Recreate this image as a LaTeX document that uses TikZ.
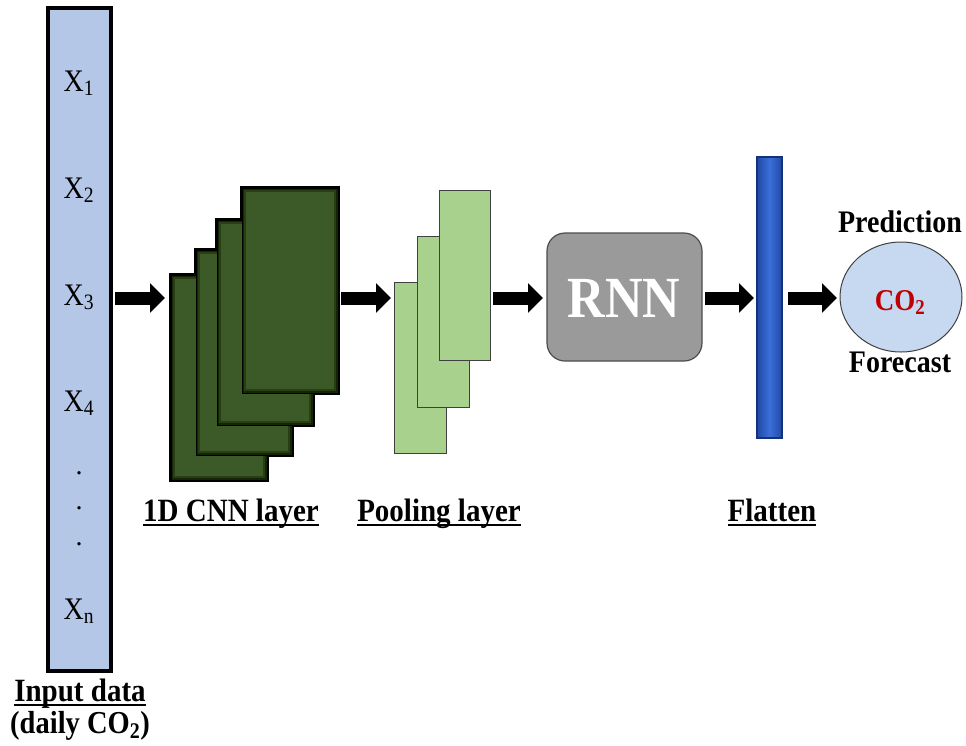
\documentclass[tikz,border=0pt]{standalone}
\usepackage{fontspec}
\usepackage{graphicx}
\setmainfont{Liberation Serif}
\usetikzlibrary{arrows.meta,shapes.geometric}

\definecolor{inputfill}{HTML}{B4C7E7}
\definecolor{cnnfill}{HTML}{3B5A27}
\definecolor{cnnglow}{HTML}{273F13}
\definecolor{cnndeep}{HTML}{142407}
\definecolor{poolfill}{HTML}{A9D18E}
\definecolor{rnnfill}{HTML}{9A9A9A}
\definecolor{flatmid}{HTML}{3B6FD8}
\definecolor{flatedge}{HTML}{2048A8}
\definecolor{outfill}{HTML}{C6D9F0}
\definecolor{co2red}{HTML}{C00000}

% slightly tall lettering
\newcommand{\tall}[1]{\scalebox{1}[1.12]{#1}}
% underlined caption with a heavier rule
\newcommand{\ulabel}[1]{\setbox0\hbox{\tall{#1}}\rlap{\rule[-5pt]{\wd0}{2pt}}\box0}

\tikzset{
  block/.style={anchor=north west, inner sep=0pt, outer sep=0pt},
  inbar/.style={block, fill=inputfill, draw=black, line width=3.5pt},
  sheet/.style={block},
  poolsheet/.style={block, fill=poolfill, draw=black!75, line width=0.8pt},
  rnnbox/.style={block, fill=rnnfill, draw=black!70, line width=1.2pt, rounded corners=18pt},
  flatbar/.style={block, left color=flatedge, right color=flatedge, middle color=flatmid, draw=flatedge!70!black, line width=1.2pt},
  outcircle/.style={ellipse, fill=outfill, draw=black!75, line width=1pt, inner sep=0pt, outer sep=0pt,
    minimum width=122pt, minimum height=110pt},
  xlab/.style={anchor=base, inner sep=0pt, font=\fontsize{28}{30}\selectfont},
  caption/.style={anchor=base, inner sep=0pt, font=\fontsize{29}{31}\selectfont\bfseries},
  bigarrow/.style={line width=13pt, -{Triangle[length=15pt, width=29pt]}},
}

\begin{document}
\begin{tikzpicture}[x=1pt, y=-1pt]
\useasboundingbox (0,0) rectangle (966,745);

% input column
\node[inbar, minimum width=63pt, minimum height=663pt] (inp) at (48,8) {};
\node[xlab] (x1) at (79,91) {\tall{X\textsubscript{1}}};
\node[xlab] (x2) at (79,198) {\tall{X\textsubscript{2}}};
\node[xlab] (x3) at (79,305) {\tall{X\textsubscript{3}}};
\node[xlab] (x4) at (79,411) {\tall{X\textsubscript{4}}};
\node[xlab] (d1) at (79,474) {.};
\node[xlab] (d2) at (79,509) {.};
\node[xlab] (d3) at (79,545) {.};
\node[xlab] (xn) at (79,619) {\tall{X\textsubscript{n}}};
\node[caption] (inlab) at (80,701) {\ulabel{Input data}};
\node[caption, font=\fontsize{28.5}{30}\selectfont\bfseries] (inlab2) at (80,733) {\tall{(daily CO\textsubscript{2})}};

% 1D CNN feature maps
\node[sheet, minimum width=96pt, minimum height=205pt] (c1) at (171,275) {};
\node[sheet, minimum width=96pt, minimum height=205pt] (c2) at (196,250) {};
\node[sheet, minimum width=96pt, minimum height=205pt] (c3) at (217,220) {};
\node[sheet, minimum width=96pt, minimum height=205pt] (c4) at (242,188) {};
\foreach \s in {c1,c2,c3,c4}
  \draw[line width=4.5pt, line join=miter] (\s.south west) rectangle (\s.north east);
\foreach \s in {c1,c2,c3,c4}{
  \fill[cnnfill] (\s.south west) rectangle (\s.north east);
  \begin{scope}
    \clip (\s.south west) rectangle (\s.north east);
    \draw[cnnglow, line width=8pt] (\s.south west) rectangle (\s.north east);
    \draw[cnndeep, line width=3.5pt] (\s.south west) rectangle (\s.north east);
  \end{scope}
  \draw[black, line width=0.9pt] (\s.south west) rectangle (\s.north east);
}
\node[caption] (cnnlab) at (231,521) {\ulabel{1D CNN layer}};

% pooling maps
\node[poolsheet, minimum width=52pt, minimum height=171pt] (p1) at (394,282) {};
\node[poolsheet, minimum width=52pt, minimum height=171pt] (p2) at (417,236) {};
\node[poolsheet, minimum width=51pt, minimum height=170pt] (p3) at (439,190) {};
\node[caption] (poollab) at (439,521) {\ulabel{Pooling layer}};

% recurrent block
\node[rnnbox, minimum width=155pt, minimum height=128pt] (rnn) at (547,233) {};
\node[anchor=base, inner sep=0pt, text=white, font=\fontsize{52}{54}\selectfont\bfseries] (rnntxt) at (624,317) {\tall{RNN}};

% flatten layer
\node[flatbar, minimum width=25pt, minimum height=281pt] (flat) at (757,157) {};
\node[caption] (flatlab) at (772,521) {\ulabel{Flatten}};

% output
\node[outcircle] (out) at (901,297) {};
\node[anchor=base, inner sep=0pt, text=co2red, font=\fontsize{27}{29}\selectfont\bfseries] (co2) at (900,310) {\tall{CO\textsubscript{2}}};
\node[caption, font=\fontsize{28}{30}\selectfont\bfseries] (pred) at (900,232) {\tall{Prediction}};
\node[caption, font=\fontsize{28}{30}\selectfont\bfseries] (fore) at (900,372) {\tall{Forecast}};

% flow arrows
\coordinate (ay) at (0,298);
\draw[bigarrow, shorten <=4pt, shorten >=6pt] (inp.east |- ay) -- (c1.west |- ay);
\draw[bigarrow, shorten <=3pt, shorten >=3pt] (c4.east |- ay) -- (p1.west |- ay);
\draw[bigarrow, shorten <=3pt, shorten >=4pt] (p3.east |- ay) -- (rnn.west |- ay);
\draw[bigarrow, shorten <=3pt, shorten >=3pt] (rnn.east |- ay) -- (flat.west |- ay);
\draw[bigarrow, shorten <=6pt, shorten >=3pt] (flat.east |- ay) -- (out.west |- ay);
\end{tikzpicture}
\end{document}
